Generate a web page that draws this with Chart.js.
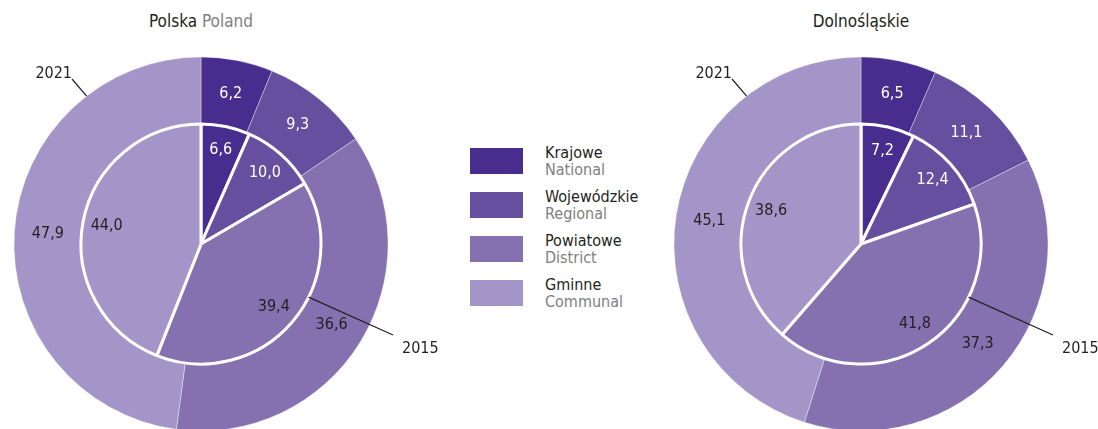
<!DOCTYPE html>
<html>
<head>
<meta charset="utf-8">
<script src="https://cdn.jsdelivr.net/npm/chart.js@4/dist/chart.umd.min.js"></script>
<style>
    html, body { margin: 0; padding: 0; background: #fff; overflow: hidden; }
    body { width: 1098px; height: 429px; position: relative;
           font-family: "Liberation Sans Narrow", "DejaVu Sans Condensed", sans-serif; color: #231f20; }
    .tytul { position: absolute; top: 11px; width: 300px; text-align: center; font-size: 17px; }
    .tytul span { color: #808080; }
    canvas { position: absolute; top: 43px; }
    #legenda { position: absolute; left: 470px; top: 148px; }
    .poz { display: flex; height: 44px; }
    .kolor { width: 53px; height: 26px; }
    .opis { margin-left: 22px; margin-top: -4px; font-size: 16px; line-height: 17px; }
    .opis span { color: #808080; display: block; }
</style>
</head>
<body>
<div class="tytul" style="left:51px">Polska <span>Poland</span></div>
<div class="tytul" style="left:711px">Dolnośląskie</div>
<canvas id="chartPolska" width="460" height="402" style="left:0px"></canvas>
<canvas id="chartDolnoslaskie" width="460" height="402" style="left:660px"></canvas>
<div id="legenda"></div>

<script>
// rodzaje dróg publicznych
const kategorie = ['Krajowe', 'Wojewódzkie', 'Powiatowe', 'Gminne'];
const kategorieEn = ['National', 'Regional', 'District', 'Communal'];
const kolory = ['#482d8e', '#664f9f', '#8570b0', '#a395c7'];
const kolorTekstu = ['#ffffff', '#ffffff', '#231f20', '#231f20'];
const lata = ['2021', '2015'];

// udział w % (zewnętrzny pierścień 2021, środek 2015)
const polska2021 = [6.2, 9.3, 36.6, 47.9];
const polska2015 = [6.6, 10.0, 39.4, 44.0];
const dolnoslaskie2021 = [6.5, 11.1, 37.3, 45.1];
const dolnoslaskie2015 = [7.2, 12.4, 41.8, 38.6];

const fontWykresu = '"Liberation Sans Narrow", "DejaVu Sans Condensed", sans-serif';

// legenda w środku
let legenda = document.getElementById('legenda');
kategorie.forEach((k, i) => {
    legenda.innerHTML += '<div class="poz"><div class="kolor" style="background:' + kolory[i] + '"></div>'
        + '<div class="opis">' + k + '<span>' + kategorieEn[i] + '</span></div></div>';
});

// wartości na wycinkach + podpisy lat z linią
const etykiety = {
    id: 'etykiety',
    afterDatasetsDraw(chart) {
        const ctx = chart.ctx;
        ctx.save();
        ctx.font = '16px ' + fontWykresu;
        ctx.textAlign = 'center';
        ctx.textBaseline = 'middle';
        chart.data.datasets.forEach((ds, di) => {
            const meta = chart.getDatasetMeta(di);
            meta.data.forEach((arc, i) => {
                const p = arc.getProps(['x', 'y', 'startAngle', 'endAngle', 'innerRadius', 'outerRadius'], true);
                const kat = (p.startAngle + p.endAngle) / 2;
                const r = di === 0 ? (p.innerRadius + p.outerRadius) / 2 : p.outerRadius * 0.8;
                ctx.fillStyle = kolorTekstu[i];
                ctx.fillText(ds.data[i].toFixed(1).replace('.', ','), p.x + r * Math.cos(kat), p.y + r * Math.sin(kat));
            });
        });

        // 2021 -> krawędź zewnętrzna, 2015 -> krawędź koła wewnętrznego
        const zew = chart.getDatasetMeta(0).data[0];
        const wew = chart.getDatasetMeta(1).data[0];
        const cx = zew.x, cy = zew.y;
        ctx.strokeStyle = '#231f20';
        ctx.lineWidth = 1.2;
        ctx.fillStyle = '#231f20';
        ctx.textBaseline = 'alphabetic';

        let a = -127.7 * Math.PI / 180;
        ctx.beginPath();
        ctx.moveTo(cx + zew.outerRadius * Math.cos(a), cy + zew.outerRadius * Math.sin(a));
        ctx.lineTo(cx - 129, cy - 165);
        ctx.stroke();
        ctx.textAlign = 'right';
        ctx.fillText(lata[0], cx - 129, cy - 166);

        a = 26.3 * Math.PI / 180;
        ctx.beginPath();
        ctx.moveTo(cx + wew.outerRadius * Math.cos(a), cy + wew.outerRadius * Math.sin(a));
        ctx.lineTo(cx + 192, cy + 91);
        ctx.stroke();
        ctx.textAlign = 'left';
        ctx.fillText(lata[1], cx + 201, cy + 109);
        ctx.restore();
    }
};

function wykres(id, dane2021, dane2015) {
    const ctx = document.getElementById(id).getContext('2d');
    return new Chart(ctx, {
        type: 'pie',
        data: {
            labels: kategorie,
            datasets: [
                {
                    label: lata[0],
                    data: dane2021,
                    backgroundColor: kolory,
                    borderColor: 'rgba(255,255,255,0.35)',
                    borderWidth: 1,
                    weight: 67,
                    order: 1,
                },
                {
                    // rysowane na końcu, żeby biały okrąg był pełnej grubości
                    label: lata[1],
                    data: dane2015,
                    backgroundColor: kolory,
                    borderColor: '#ffffff',
                    borderWidth: 3,
                    weight: 120,
                    order: 0,
                },
            ],
        },
        options: {
            responsive: false,
            animation: false,
            events: [],
            radius: 187,
            // miejsce z prawej na podpis 2015
            layout: { padding: { right: 58 } },
            plugins: {
                legend: { display: false },
                tooltip: { enabled: false },
            },
        },
        plugins: [etykiety],
    });
}

wykres('chartPolska', polska2021, polska2015);
wykres('chartDolnoslaskie', dolnoslaskie2021, dolnoslaskie2015);
</script>
</body>
</html>
